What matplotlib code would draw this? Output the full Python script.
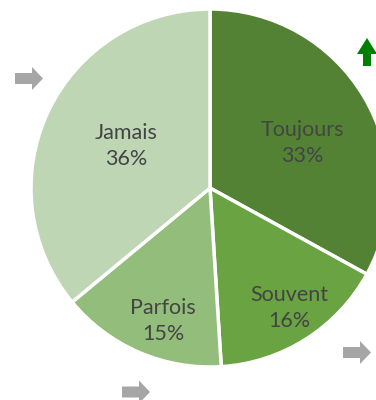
import matplotlib.pyplot as plt
from matplotlib.patches import Polygon

labels = ["Toujours", "Souvent", "Parfois", "Jamais"]
values = [33, 16, 15, 36]
colors = ["#548235", "#69a342", "#93bd7b", "#bfd6b4"]

W, H = 376, 400
# label anchor points, pixels from the top-left corner
label_xy = [(302, 143), (289, 308), (163, 321), (126, 146)]


def arrow_right(ax, x0, yc, color="#a6a6a6"):
    # block arrow pointing right, pixel units with y measured from the top
    pts = [(x0, yc - 5.5), (x0 + 17, yc - 5.5), (x0 + 17, yc - 11.5), (x0 + 28, yc),
           (x0 + 17, yc + 11.5), (x0 + 17, yc + 5.5), (x0, yc + 5.5)]
    ax.add_patch(Polygon([(x, H - y) for x, y in pts], closed=True, color=color, lw=0))


def arrow_up(ax, xc, y0, color="#008000"):
    pts = [(xc - 4, y0), (xc - 4, y0 - 12), (xc - 10, y0 - 12), (xc, y0 - 28),
           (xc + 10, y0 - 12), (xc + 4, y0 - 12), (xc + 4, y0)]
    ax.add_patch(Polygon([(x, H - y) for x, y in pts], closed=True, color=color, lw=0))


fig = plt.figure(figsize=(W / 100, H / 100), dpi=100)
ax = fig.add_axes([0, 0, 1, 1])

cx, cy, R = 210, H - 188, 179
wedges, _ = ax.pie(values, colors=colors, startangle=90, counterclock=False,
                   center=(cx, cy), radius=R, frame=True,
                   wedgeprops=dict(edgecolor="white", linewidth=2.5))
ax.set_xlim(0, W)
ax.set_ylim(0, H)
ax.set_aspect("equal")
ax.axis("off")

for (x, y), lab, v in zip(label_xy, labels, values):
    ax.text(x, H - y, f"{lab}\n{v}%", ha="center", va="center", fontsize=15.5,
            family="Lato", color="#444444", linespacing=1.4)

arrow_right(ax, 15, 78.5)
arrow_right(ax, 343, 352.5)
arrow_right(ax, 122, 392)
arrow_up(ax, 367, 66)

fig.savefig("out.png", dpi=100)
